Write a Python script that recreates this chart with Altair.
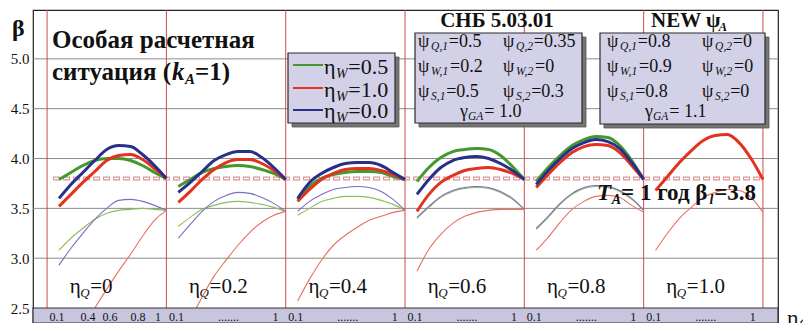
import altair as alt
import pandas as pd

SERIF = "Liberation Serif, Times New Roman, Times, serif"

# ---------------- data ----------------
X_PTS = [0.1, 0.2, 0.3, 0.4, 0.5, 0.6, 0.7, 0.8, 0.9, 1.0]
ETA_Q = ["0", "0.2", "0.4", "0.6", "0.8", "1.0"]

THICK_BLUE = [
    [3.60, 3.74, 3.86, 3.98, 4.09, 4.13, 4.12, 4.04, 3.93, 3.80],
    [3.66, 3.76, 3.87, 3.98, 4.04, 4.07, 4.07, 4.01, 3.91, 3.79],
    [3.60, 3.76, 3.85, 3.91, 3.95, 3.96, 3.96, 3.93, 3.86, 3.79],
    [3.64, 3.79, 3.91, 3.98, 4.01, 4.02, 4.00, 3.95, 3.88, 3.79],
    [3.74, 3.88, 4.00, 4.10, 4.16, 4.19, 4.17, 4.10, 3.96, 3.79],
]
THICK_RED = [
    [3.52, 3.64, 3.76, 3.87, 3.98, 4.03, 4.04, 3.99, 3.90, 3.80],
    [3.56, 3.67, 3.79, 3.89, 3.96, 3.99, 3.99, 3.95, 3.88, 3.79],
    [3.57, 3.69, 3.79, 3.85, 3.89, 3.90, 3.90, 3.88, 3.84, 3.79],
    [3.47, 3.64, 3.76, 3.83, 3.88, 3.90, 3.91, 3.89, 3.85, 3.79],
    [3.71, 3.84, 3.96, 4.06, 4.12, 4.14, 4.13, 4.06, 3.93, 3.79],
    [3.68, 3.82, 3.96, 4.08, 4.18, 4.23, 4.24, 4.16, 4.00, 3.79],
]
THICK_GREEN = [
    [3.79, 3.86, 3.93, 3.98, 4.00, 4.00, 3.98, 3.93, 3.86, 3.80],
    [3.72, 3.79, 3.86, 3.90, 3.92, 3.93, 3.92, 3.89, 3.85, 3.79],
    [3.59, 3.72, 3.80, 3.84, 3.86, 3.87, 3.87, 3.86, 3.82, 3.79],
    [3.77, 3.91, 4.01, 4.07, 4.09, 4.10, 4.09, 4.03, 3.92, 3.79],
    [3.77, 3.91, 4.03, 4.13, 4.19, 4.22, 4.21, 4.13, 3.98, 3.79],
]
THIN_BLUE = [
    [2.93, 3.10, 3.25, 3.39, 3.50, 3.58, 3.59, 3.57, 3.53, 3.48],
    [3.20, 3.34, 3.47, 3.57, 3.63, 3.66, 3.65, 3.61, 3.55, 3.47],
    [3.47, 3.57, 3.64, 3.69, 3.71, 3.72, 3.71, 3.67, 3.59, 3.48],
    [3.41, 3.52, 3.62, 3.68, 3.71, 3.72, 3.71, 3.67, 3.60, 3.49],
    [3.30, 3.42, 3.55, 3.65, 3.71, 3.73, 3.72, 3.68, 3.60, 3.48],
]
THIN_GREEN = [
    [3.08, 3.20, 3.30, 3.39, 3.45, 3.48, 3.49, 3.50, 3.49, 3.48],
    [3.32, 3.41, 3.49, 3.53, 3.56, 3.57, 3.56, 3.54, 3.51, 3.47],
    [3.43, 3.50, 3.57, 3.60, 3.62, 3.62, 3.61, 3.58, 3.54, 3.48],
    [3.40, 3.51, 3.61, 3.67, 3.70, 3.71, 3.70, 3.66, 3.59, 3.49],
    [3.29, 3.41, 3.54, 3.64, 3.70, 3.72, 3.71, 3.67, 3.59, 3.48],
]
THIN_RED_X = [
    [0.4, 0.5, 0.6, 0.7, 0.8, 0.9, 1.0],
    [0.25, 0.3, 0.4, 0.5, 0.6, 0.7, 0.8, 0.9, 1.0],
    X_PTS, X_PTS, X_PTS, X_PTS,
]
THIN_RED = [
    [2.50, 2.69, 2.87, 3.04, 3.22, 3.38, 3.48],
    [2.50, 2.61, 2.82, 2.98, 3.13, 3.26, 3.36, 3.43, 3.47],
    [2.57, 2.79, 2.98, 3.13, 3.23, 3.31, 3.38, 3.42, 3.46, 3.48],
    [2.87, 3.09, 3.24, 3.35, 3.42, 3.46, 3.48, 3.49, 3.49, 3.49],
    [3.08, 3.21, 3.36, 3.49, 3.57, 3.62, 3.63, 3.61, 3.53, 3.46],
    [3.08, 3.25, 3.40, 3.51, 3.61, 3.66, 3.69, 3.68, 3.61, 3.46],
]
BETA_T = 3.8
Y_TICKS = [2.5, 3.0, 3.5, 4.0, 4.5, 5.0]

# ---------------- build tables ----------------
def curve_rows(name, arr, xs_list=None):
    out = []
    for k, vals in enumerate(arr):
        xl = xs_list[k] if xs_list else X_PTS
        for x, v in zip(xl, vals):
            out.append(dict(series=name, panel=k, X=k + x, beta=v))
    return out

thin = pd.DataFrame(curve_rows("thin_green", THIN_GREEN) + curve_rows("thin_blue", THIN_BLUE)
                    + curve_rows("thin_red", THIN_RED, THIN_RED_X))
thick = pd.DataFrame(curve_rows("green", THICK_GREEN) + curve_rows("red", THICK_RED)
                     + curve_rows("blue", THICK_BLUE))

SER_DOM = ["green", "red", "blue", "thin_green", "thin_blue", "thin_red"]
SER_COL = ["#44982e", "#e3321f", "#27318a", "#8cbf5a", "#7b6cc4", "#e8705f"]

W_PX = 745
H_PX = 313
xs = alt.Scale(domain=[-0.118, 6.126], nice=False, zero=False)
ys = alt.Scale(domain=[2.35, 5.49], nice=False, zero=False)
yaxis = alt.Axis(values=Y_TICKS, format=".1f", grid=False, ticks=False, domain=False,
                 labelFont=SERIF, labelFontSize=15, labelColor="#111", labelPadding=4, title=None)

def X(f="X"):
    return alt.X(f"{f}:Q", scale=xs, axis=None)

def Y(f="beta"):
    return alt.Y(f"{f}:Q", scale=ys, axis=yaxis)

def PX(f="px"):
    return alt.X(f"{f}:Q", scale=None)

def PY(f="py"):
    return alt.Y(f"{f}:Q", scale=None)

layers = []

# horizontal grid
layers.append(alt.Chart(pd.DataFrame({"beta": Y_TICKS[1:]})).mark_rule(color="#8c8c8c", strokeWidth=1)
              .encode(y=Y(), x=alt.value(0), x2=alt.value(W_PX)))
# vertical red panel lines
layers.append(alt.Chart(pd.DataFrame({"X": list(range(7))})).mark_rule(color="#d24a4a", strokeWidth=1)
              .encode(x=X(), y=alt.value(0), y2=alt.value(298)))
# dashed target line
dash_df = pd.DataFrame({"X": [0.05], "X2": [6.0], "beta": [BETA_T]})
layers.append(alt.Chart(dash_df).mark_rule(color="#d99595", strokeWidth=4, strokeDash=[7, 3])
              .encode(x=X(), x2="X2:Q", y=Y()))
layers.append(alt.Chart(dash_df).mark_rule(color="#ffffff", strokeWidth=1.4, strokeDash=[5, 5], strokeDashOffset=-1)
              .encode(x=X(), x2="X2:Q", y=Y()))

color = alt.Color("series:N", scale=alt.Scale(domain=SER_DOM, range=SER_COL), legend=None)
layers.append(alt.Chart(thin).mark_line(strokeWidth=1.1, interpolate="monotone")
              .encode(x=X(), y=Y(), color=color, detail="panel:N"))
layers.append(alt.Chart(thick).mark_line(strokeWidth=3, interpolate="monotone")
              .encode(x=X(), y=Y(), color=color, detail="panel:N"))

# bottom band
band = pd.DataFrame({"px": [0], "px2": [W_PX], "py": [298], "py2": [H_PX]})
layers.append(alt.Chart(band).mark_rect(fill="#c8c6de", stroke="#333333", strokeWidth=1.2)
              .encode(x=PX(), x2="px2:Q", y=PY(), y2="py2:Q"))

tick_rows = []
first = [("0.1", 10), ("0.4", 41), ("0.6", 63), ("0.8", 91), ("1", 111)]
other = [("0.1", 10), (".......", 62), ("1", 109)]
for k in range(6):
    for t, off in (first if k == 0 else other):
        tick_rows.append(dict(X=k + off / 119.3, t=t))
layers.append(alt.Chart(pd.DataFrame(tick_rows)).mark_text(font=SERIF, fontSize=12, color="#111",
                                                          align="center", baseline="alphabetic")
              .encode(x=X(), y=alt.value(311), text="t:N"))

# panel labels eta_Q
pl = pd.DataFrame({"X": [k + 0.19 for k in range(6)], "v": ["=" + v for v in ETA_Q], "e": ["η"] * 6, "q": ["Q"] * 6})
layers.append(alt.Chart(pl).mark_text(font=SERIF, fontSize=21, color="#111", align="left", baseline="alphabetic")
              .encode(x=X(), y=alt.value(283), text="e:N"))
layers.append(alt.Chart(pl).mark_text(font=SERIF, fontSize=13, fontStyle="italic", color="#111", align="left",
                                      baseline="alphabetic", dx=10.5)
              .encode(x=X(), y=alt.value(287), text="q:N"))
layers.append(alt.Chart(pl).mark_text(font=SERIF, fontSize=21, color="#111", align="left", baseline="alphabetic",
                                      dx=20.5)
              .encode(x=X(), y=alt.value(283), text="v:N"))

# boxes (shadow + box)
boxes = pd.DataFrame({"px": [255, 382, 567], "px2": [362, 549, 732], "py": [43, 23, 23], "py2": [113, 113, 114]})
shadow = boxes.copy()
for c in ["px", "px2", "py", "py2"]:
    shadow[c] = shadow[c] + 4
layers.append(alt.Chart(shadow).mark_rect(fill="#767676", stroke="#555555", strokeWidth=0.8)
              .encode(x=PX(), x2="px2:Q", y=PY(), y2="py2:Q"))
layers.append(alt.Chart(boxes).mark_rect(fill="#d3d1e8", stroke="#2a2a2a", strokeWidth=1.2)
              .encode(x=PX(), x2="px2:Q", y=PY(), y2="py2:Q"))

# legend lines
leg = pd.DataFrame({"px": [260] * 3, "px2": [290] * 3, "py": [55, 78, 100], "series": ["green", "red", "blue"]})
layers.append(alt.Chart(leg).mark_rule(strokeWidth=2)
              .encode(x=PX(), x2="px2:Q", y=PY(), color=color))

# ---------------- text pieces ----------------
STY = {
    "beta": (24, "bold", "normal"),
    "title": (25, "bold", "normal"),
    "titlek": (25, "bold", "italic"),
    "titlesub": (15, "bold", "italic"),
    "leg": (22, "normal", "normal"),
    "legsub": (14, "normal", "italic"),
    "box": (18, "normal", "normal"),
    "boxsub": (11.5, "normal", "italic"),
    "boxtitle": (21, "bold", "normal"),
    "boxtitlesub": (13, "bold", "italic"),
    "tmain": (23, "bold", "normal"),
    "tital": (23, "bold", "italic"),
    "tsub": (14, "bold", "italic"),
}
CW = {'η': 0.52, 'ψ': 0.7, 'γ': 0.42, 'β': 0.5, '=': 0.57, '.': 0.25, ',': 0.25, ' ': 0.25,
      'Q': 0.74, 'W': 0.85, 'S': 0.52, 'G': 0.74, 'A': 0.63, 'T': 0.62, 'k': 0.5, 'l': 0.3,
      'N': 0.722, 'E': 0.667, 'г': 0.45, 'о': 0.5, 'д': 0.55, '(': 0.333, ')': 0.333}

def width(t, s):
    return sum(CW.get(c, 0.5) for c in t) * STY[s][0]

def seq(x, y, parts):
    out = []
    for t, s, d in parts:
        out.append(dict(px=x, py=y + d, t=t, s=s, a="left"))
        x += width(t, s) + 0.5
    return out

rows = []
rows += seq(-21, 26, [("β", "beta", 0)])
rows += seq(19, 38, [("Особая расчетная", "title", 0)])
rows.append(dict(px=138, py=70, t="ситуация (", s="title", a="right"))
rows += seq(139, 70, [("k", "titlek", 0), ("A", "titlesub", 4), ("=1)", "title", 0)])

for txt, py in zip(["=0.5", "=1.0", "=0.0"], [64, 87, 108]):
    rows += seq(291, py, [("η", "leg", 0), ("W", "legsub", 4), (txt, "leg", 0)])

rows.append(dict(px=464, py=17, t="СНБ 5.03.01", s="boxtitle", a="center"))
rows += seq(618, 17, [("NEW ψ", "boxtitle", 0), ("A", "boxtitlesub", 4)])

SNB = [[("Q,1", "=0.5"), ("Q,2", "=0.35")], [("W,1", "=0.2"), ("W,2", "=0")], [("S,1", "=0.5"), ("S,2", "=0.3")]]
NEW = [[("Q,1", "=0.8"), ("Q,2", "=0")], [("W,1", "=0.9"), ("W,2", "=0")], [("S,1", "=0.8"), ("S,2", "=0")]]
for table, cols, gx, gval in [(SNB, [385, 470], 427, " = 1.0"), (NEW, [574, 669], 612, " = 1.1")]:
    for r, py in zip(table, [37, 62, 87]):
        for (sub, val), cx in zip(r, cols):
            rows += seq(cx, py, [("ψ", "box", 0), (sub, "boxsub", 3), (val, "box", 0)])
    rows += seq(gx, 107, [("γ", "box", 0), ("GA", "boxsub", 3), (gval, "box", 0)])

rows += seq(564, 190, [("T", "tital", 0), ("A", "tsub", 4), ("= 1 год β", "tmain", 0),
                       ("l", "tsub", 4), ("=3.8", "tmain", 0)])
rows += seq(754, 315, [("η", "leg", 0), ("Q", "legsub", 4)])

tdf = pd.DataFrame(rows)
for (s, a), g in tdf.groupby(["s", "a"]):
    size, weight, style = STY[s]
    layers.append(alt.Chart(g).mark_text(font=SERIF, fontSize=size, fontWeight=weight, fontStyle=style,
                                         align=a, baseline="alphabetic", color="#111")
                  .encode(x=PX(), y=PY(), text="t:N"))

chart = alt.layer(*layers).properties(
    width=W_PX, height=H_PX,
    padding={"left": 25, "top": 2, "right": 25, "bottom": 0},
    autosize=alt.AutoSizeParams(type="none"),
    background="white",
).configure_view(stroke="#222222", strokeWidth=1.2)

chart.save("out.html", embed_options={"renderer": "svg", "actions": False})
